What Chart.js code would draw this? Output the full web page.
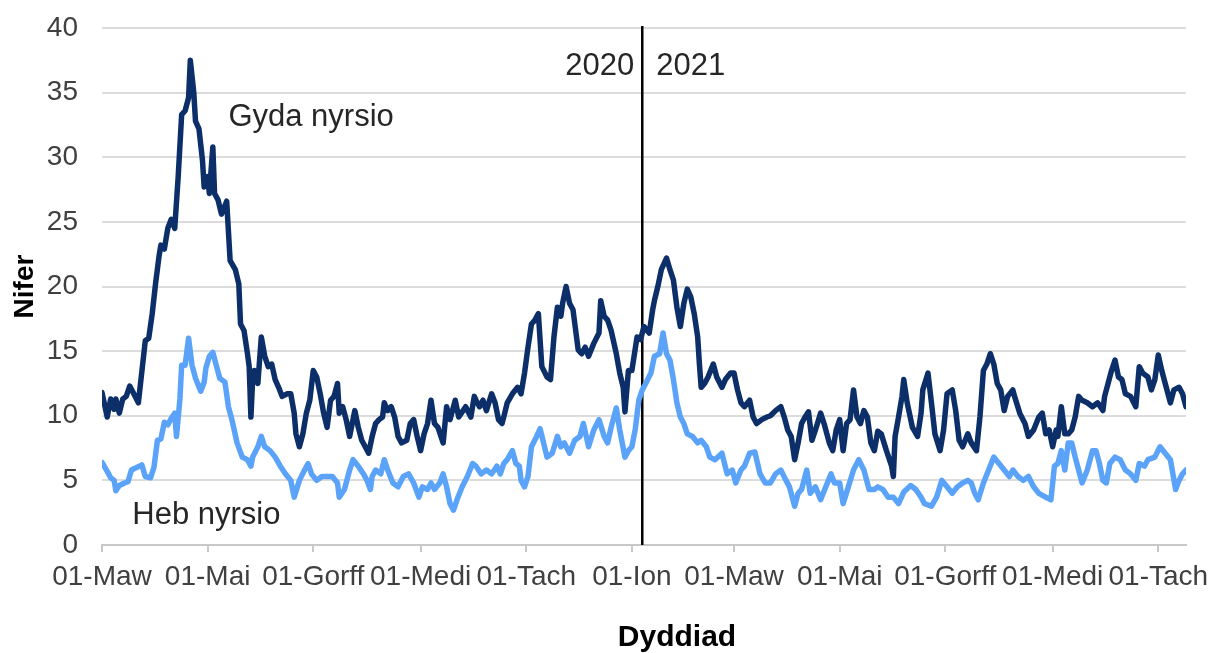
<!DOCTYPE html>
<html>
<head>
<meta charset="utf-8">
<script src="https://cdn.jsdelivr.net/npm/chart.js@4.4.1/dist/chart.umd.min.js"></script>
<style>
  html, body { margin: 0; padding: 0; background: #fff; }
  #wrap { width: 1212px; height: 653px; }
</style>
</head>
<body>
<div id="wrap"><canvas id="chart" width="1212" height="653"></canvas></div>
<script>
// x values are days counted from 01-Mar-2020
const tickDays = [0, 61, 122, 184, 245, 306, 365, 426, 487, 549, 610];
const tickLabels = ['01-Maw', '01-Mai', '01-Gorff', '01-Medi', '01-Tach', '01-Ion',
                    '01-Maw', '01-Mai', '01-Gorff', '01-Medi', '01-Tach'];
const lastDay = 626;
const yearLineDay = 312;

// Gyda nyrsio (dark line)
const gydaDays = [0,3,5,7,8,10,12,14,16,18,21,23,25,27,29,31,33,34,36,38,40,42,44,46,48,50,51,53,54,56,58,59,61,62,64,65,67,69,72,74,
  77,79,80,82,84,85,86,87,88,90,92,94,96,98,100,102,104,107,109,111,112,114,116,118,120,122,124,126,128,130,132,134,136,137,139,141,143,146,148,150,
  152,154,156,158,160,162,163,165,167,169,171,173,176,178,180,182,184,186,188,190,192,194,197,199,201,204,206,208,210,213,215,216,218,220,222,225,227,229,231,232,
  234,237,240,242,244,246,248,250,252,254,257,259,261,263,265,266,268,270,272,275,277,279,281,284,287,288,290,292,294,297,299,301,302,304,306,309,311,313,316,318,
  319,321,323,326,328,330,332,334,336,338,340,342,344,345,346,348,350,353,355,358,360,363,365,367,369,371,374,376,378,381,384,386,389,392,394,396,398,400,402,404,
  406,408,410,412,415,417,420,422,424,426,428,430,432,434,436,438,440,442,444,446,448,450,453,456,457,458,460,462,463,465,468,471,473,474,477,479,481,484,486,488,
  491,493,495,497,500,502,505,507,509,511,513,515,517,519,521,523,526,527,530,533,535,538,541,543,545,547,549,551,552,554,556,558,560,562,564,566,569,572,575,578,
  579,581,583,585,587,589,591,594,597,599,601,604,606,608,610,612,614,617,619,622,624,626];
const gydaValues = [11.8,9.9,11.3,10.5,11.3,10.2,11.3,11.5,12.3,11.8,11.0,13.4,15.8,16.0,17.9,20.3,22.4,23.2,22.9,24.5,25.2,24.5,28.5,33.3,33.6,34.6,37.5,35.0,32.8,32.2,29.8,27.7,28.5,27.2,30.8,27.2,26.7,25.6,26.6,22.0,
  21.3,20.2,17.1,16.6,14.8,13.8,9.9,12.8,13.5,12.5,16.1,14.6,13.8,14.0,12.8,12.2,11.5,11.7,11.7,10.2,8.6,7.6,8.6,10.2,11.2,13.5,13.0,11.7,10.2,9.1,11.2,11.5,12.5,10.2,10.7,9.7,8.4,10.4,9.1,8.1,
  7.6,7.1,8.4,9.4,9.7,9.9,11.0,10.4,10.7,9.9,8.4,7.9,8.1,9.4,9.7,8.4,7.3,8.6,9.4,11.2,9.4,9.1,7.9,10.7,9.7,11.2,9.9,10.3,10.7,9.9,11.5,11.2,10.7,11.2,10.4,11.7,11.0,9.7,9.4,9.9,
  11.0,11.7,12.2,11.7,13.3,15.3,17.1,17.4,17.9,13.8,13.0,12.8,16.1,18.4,17.7,18.7,20.0,18.7,18.2,15.1,14.8,15.3,14.6,15.6,16.4,18.9,17.7,17.4,16.6,14.8,13.3,12.2,10.3,13.5,13.5,16.1,15.9,16.9,16.4,18.2,
  18.9,20.0,21.3,22.2,21.3,20.5,18.4,16.9,18.7,19.8,19.2,17.9,16.1,14.0,12.2,12.5,13.0,14.0,13.0,12.2,12.8,13.3,13.3,12.0,11.0,10.7,11.2,9.9,9.4,9.7,9.9,10.0,10.4,10.7,9.9,8.9,8.4,6.6,7.9,9.4,
  9.9,10.3,8.1,8.9,10.2,9.4,7.9,7.3,8.9,9.7,7.3,9.4,9.7,12.0,9.9,9.4,10.4,9.9,7.9,7.3,8.8,8.6,7.3,6.1,5.3,8.4,9.9,11.5,12.8,11.0,9.1,8.4,10.2,12.0,13.3,11.0,8.6,7.3,8.9,11.7,
  12.0,10.4,8.1,7.6,8.6,7.9,7.3,9.9,13.5,14.0,14.8,14.0,12.5,12.0,10.4,11.5,12.0,11.5,10.2,9.4,8.4,8.9,9.9,10.2,8.6,8.9,7.6,8.9,8.4,10.7,8.6,8.6,8.9,9.9,11.5,11.2,11.0,10.7,11.0,10.4,
  11.5,12.5,13.5,14.3,13.0,12.8,11.7,11.5,10.7,13.8,13.3,13.0,12.0,12.8,14.7,13.5,12.5,11.0,12.0,12.2,11.7,10.7];

// Heb nyrsio (light line)
const hebDays = [0,3,5,7,8,10,13,15,17,20,23,25,28,30,32,34,36,38,40,42,43,45,46,48,50,52,54,57,59,60,62,64,66,68,71,73,75,78,81,84,
  86,87,90,92,94,97,100,103,106,109,111,114,117,119,121,124,127,130,133,136,137,140,143,145,148,151,153,155,156,158,161,163,165,168,171,174,177,180,183,185,
  188,190,192,195,197,199,201,203,205,208,211,214,216,219,222,225,228,230,232,234,237,239,241,242,244,246,248,251,253,255,257,260,263,265,267,270,273,276,278,281,
  284,287,290,292,294,297,299,302,304,306,308,310,312,314,317,319,322,324,326,328,330,332,334,336,338,341,344,346,349,351,354,358,361,364,366,369,371,374,377,380,
  383,386,389,392,395,397,400,402,404,407,409,412,415,418,421,423,426,428,431,434,437,440,443,446,448,451,454,457,460,463,467,470,473,475,479,482,485,488,491,494,
  497,500,502,504,506,509,512,515,518,521,524,526,529,532,535,538,541,545,548,550,552,554,556,558,560,562,564,566,569,572,574,576,578,580,582,585,588,591,594,597,
  599,602,604,608,611,614,617,620,622,624,626];
const hebValues = [6.4,5.7,5.2,5.0,4.2,4.6,4.8,4.9,5.8,6.0,6.2,5.3,5.2,6.0,8.1,8.2,9.5,9.3,9.8,10.2,8.4,11.3,13.9,13.9,16.0,13.9,12.9,11.9,12.6,13.7,14.6,14.9,13.9,12.9,12.6,10.7,9.7,7.9,6.8,6.6,
  6.1,6.8,7.6,8.4,7.6,7.3,6.8,6.1,5.5,5.0,3.7,5.0,5.8,6.3,5.5,5.0,5.3,5.3,5.3,4.8,3.7,4.3,5.8,6.6,6.1,5.5,5.0,4.3,5.3,5.8,5.5,6.6,5.8,4.8,4.5,5.3,5.5,4.8,3.7,4.5,
  4.3,4.8,4.3,4.8,5.5,4.5,3.2,2.7,3.5,4.5,5.3,6.3,6.1,5.5,5.8,5.5,6.1,5.5,6.3,6.6,7.3,6.3,6.1,5.0,4.5,5.3,7.6,8.4,9.0,7.9,6.8,7.1,8.4,7.6,7.9,7.1,8.1,8.4,9.4,7.6,
  8.9,9.7,8.4,7.9,9.1,10.6,8.9,6.8,7.3,7.6,9.0,11.2,12.0,12.5,13.3,14.6,14.8,16.4,14.8,14.3,12.8,11.0,9.9,9.4,8.6,8.4,7.9,8.1,7.6,6.8,6.6,7.1,5.5,5.8,4.8,5.8,6.1,7.1,7.2,5.5,
  4.8,4.8,5.5,5.8,5.0,4.5,3.0,4.0,4.3,5.8,4.0,4.5,3.5,4.5,5.5,4.8,4.8,3.2,4.5,5.8,6.6,5.8,4.3,4.3,4.5,4.3,3.7,3.7,3.2,4.1,4.6,4.3,3.7,3.2,3.0,3.7,5.0,4.5,4.0,4.5,
  4.8,5.0,4.8,4.0,3.5,4.8,5.8,6.8,6.3,5.8,5.3,5.8,5.3,5.0,5.3,4.5,4.0,3.7,3.5,6.1,6.3,7.3,5.8,7.9,7.9,6.8,5.8,4.8,5.8,7.3,7.3,6.3,5.0,4.8,6.3,6.8,6.6,5.8,5.5,5.0,
  6.3,6.1,6.6,6.8,7.6,7.1,6.6,4.3,5.0,5.5,5.8];

const toPoints = (days, vals) => days.map((d, i) => ({ x: d, y: vals[i] }));

const fontFamily = '"Liberation Sans", Arial, sans-serif';

const annotations = {
  id: 'annotations',
  beforeDatasetsDraw(chart) {
    // year divider sits under the series lines
    const { ctx, chartArea, scales: { x } } = chart;
    const lx = x.getPixelForValue(yearLineDay);
    ctx.save();
    ctx.strokeStyle = '#000000';
    ctx.lineWidth = 2.5;
    ctx.beginPath();
    ctx.moveTo(lx, chartArea.top - 2);
    ctx.lineTo(lx, chartArea.bottom);
    ctx.stroke();
    ctx.restore();
  },
  afterDatasetsDraw(chart) {
    const { ctx, chartArea, scales: { x, y } } = chart;
    const lx = x.getPixelForValue(yearLineDay);
    ctx.save();
    ctx.font = '31px ' + fontFamily;
    ctx.fillStyle = '#262626';
    ctx.textBaseline = 'middle';
    ctx.textAlign = 'right';
    ctx.fillText('2020', lx - 8, y.getPixelForValue(37.0));
    ctx.textAlign = 'left';
    ctx.fillText('2021', lx + 14, y.getPixelForValue(37.0));
    ctx.fillText('Gyda nyrsio', x.getPixelForValue(73), y.getPixelForValue(33.1));
    ctx.fillText('Heb nyrsio', x.getPixelForValue(17.5), y.getPixelForValue(2.3));

    // x axis title, a little right of the plot centre as in the source
    ctx.font = 'bold 30px ' + fontFamily;
    ctx.fillStyle = '#000000';
    ctx.textAlign = 'center';
    ctx.fillText('Dyddiad', (chartArea.left + chartArea.right) / 2 + 33, chartArea.bottom + 93);
    ctx.restore();
  }
};

const tickFont = { family: fontFamily, size: 28 };

new Chart(document.getElementById('chart'), {
  type: 'line',
  data: {
    datasets: [{
      label: 'Gyda nyrsio',
      data: toPoints(gydaDays, gydaValues),
      borderColor: '#0c2f69',
      borderWidth: 5.5,
      pointRadius: 0,
      tension: 0,
      borderJoinStyle: 'round',
      borderCapStyle: 'round'
    }, {
      label: 'Heb nyrsio',
      data: toPoints(hebDays, hebValues),
      borderColor: '#5aa3f8',
      borderWidth: 5.5,
      pointRadius: 0,
      tension: 0,
      borderJoinStyle: 'round',
      borderCapStyle: 'round'
    }]
  },
  options: {
    responsive: false,
    animation: false,
    layout: { padding: { top: 28, right: 26, left: 0, bottom: 0 } },
    plugins: {
      legend: { display: false },
      tooltip: { enabled: false }
    },
    scales: {
      x: {
        type: 'linear',
        min: 0,
        max: lastDay,
        afterBuildTicks: s => { s.ticks = tickDays.map(v => ({ value: v })); },
        afterFit: s => {
          s.height = 108;
          s.paddingLeft = 0;
          s.paddingRight = 0;
        },
        ticks: {
          autoSkip: false,
          maxRotation: 0,
          color: '#404040',
          font: tickFont,
          padding: 8,
          callback: (v, i) => tickLabels[i]
        },
        grid: { drawOnChartArea: false, drawTicks: true, tickLength: 7, color: '#c8c8c8', lineWidth: 2 },
        border: { display: true, color: '#c8c8c8', width: 2 }
      },
      y: {
        min: 0,
        max: 40,
        afterFit: s => {
          s.width = 102;
          s.paddingTop = 0;
          s.paddingBottom = 0;
        },
        ticks: { stepSize: 5, color: '#404040', font: tickFont, padding: 24 },
        grid: { color: '#dcdcdc', lineWidth: 2, drawTicks: false },
        border: { display: false },
        title: {
          display: true,
          text: 'Nifer',
          color: '#000000',
          font: { family: fontFamily, size: 28, weight: 'bold' },
          padding: { top: 8, bottom: 0 }
        }
      }
    }
  },
  plugins: [annotations]
});
</script>
</body>
</html>
